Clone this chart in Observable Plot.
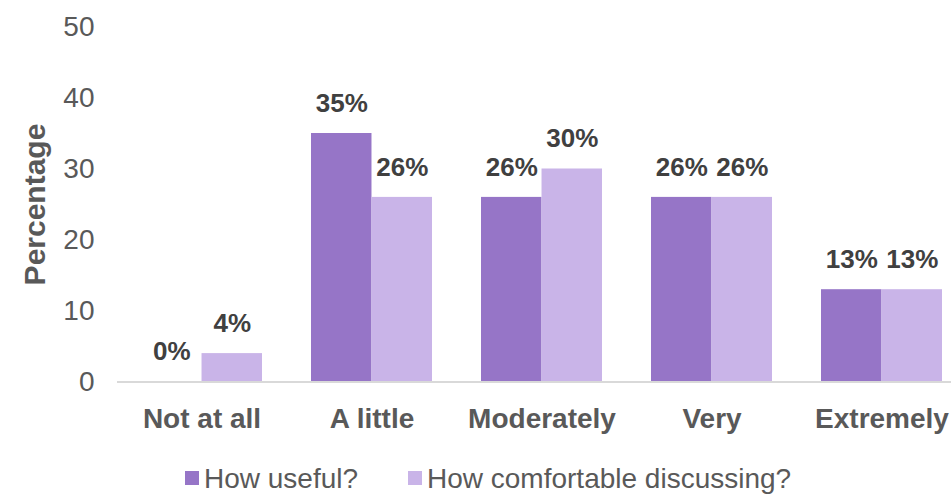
<!DOCTYPE html>
<html>
<head>
<meta charset="utf-8">
<script src="https://cdn.jsdelivr.net/npm/d3@7"></script>
<script src="https://cdn.jsdelivr.net/npm/@observablehq/plot@0.6"></script>
<style>
  body { margin: 0; background: #fff; font-family: "Liberation Sans", Arial, sans-serif; }
  #wrap { position: relative; width: 951px; height: 494px; overflow: hidden; }
  #legend { position: absolute; top: 445px; left: 0; width: 951px; height: 49px; }
  .sw { position: absolute; top: 26px; width: 14px; height: 14px; }
  .lt { position: absolute; top: 19.5px; font-size: 28px; line-height: 28px; color: #595959; white-space: nowrap; }
</style>
</head>
<body>
<div id="wrap">
  <div id="chart"></div>
  <div id="legend"></div>
</div>
<script>
const categories = ["Not at all", "A little", "Moderately", "Very", "Extremely"];
const seriesNames = ["How useful?", "How comfortable discussing?"];
const usefulValues = [0, 35, 26, 26, 13];
const comfortableValues = [4, 26, 30, 26, 13];
const seriesColors = ["#9675c7", "#c9b4e8"];
const yTicks = [0, 10, 20, 30, 40, 50];
const yLabel = "Percentage";

const rows = categories.flatMap((c, i) => [
  {category: c, series: seriesNames[0], value: usefulValues[i]},
  {category: c, series: seriesNames[1], value: comfortableValues[i]}
]);

const W = 951, H = 445, ML = 117, MR = -15, MT = 26.5, MB = 63.5;
const PI = 0.288, PO = 0.141;
const step = (W - ML - MR) / (categories.length - PI + 2 * PO);
const half = step * (1 - PI) / 2;

const first = rows.filter(d => d.series === seriesNames[0]);
const second = rows.filter(d => d.series === seriesNames[1]);

const chart = Plot.plot({
  width: W, height: H,
  marginLeft: ML, marginRight: MR, marginTop: MT, marginBottom: MB,
  style: {fontFamily: '"Liberation Sans", Arial, sans-serif', background: "white"},
  x: {domain: categories, paddingInner: PI, paddingOuter: PO, axis: null},
  y: {domain: [0, 50], axis: null},
  color: {domain: seriesNames, range: seriesColors},
  marks: [
    Plot.axisY({ticks: yTicks, tickSize: 0, tickPadding: 23, fontSize: 28, color: "#595959", label: null}),
    Plot.text([yLabel], {frameAnchor: "left", textAnchor: "middle", lineAnchor: "middle", rotate: -90, dx: -82, fontSize: 30, fontWeight: "bold", fill: "#595959"}),
    Plot.barY(first, {x: "category", y: "value", fill: "series", insetRight: half}),
    Plot.barY(second, {x: "category", y: "value", fill: "series", insetLeft: half}),
    Plot.ruleY([0], {stroke: "#d9d9d9", strokeWidth: 2}),
    Plot.text(first, {x: "category", y: "value", text: d => d.value + "%", dx: -half / 2, dy: -30, fontSize: 26, fontWeight: "bold", fill: "#404040"}),
    Plot.text(second, {x: "category", y: "value", text: d => d.value + "%", dx: half / 2, dy: -30, fontSize: 26, fontWeight: "bold", fill: "#404040"}),
    Plot.axisX({tickSize: 0, tickPadding: 26.5, fontSize: 28, fontWeight: "bold", color: "#595959", label: null})
  ]
});
document.getElementById("chart").appendChild(chart);

const legend = document.getElementById("legend");
const swX = [185, 408];
seriesNames.forEach((name, i) => {
  const sw = document.createElement("div");
  sw.className = "sw";
  sw.style.left = swX[i] + "px";
  sw.style.background = seriesColors[i];
  legend.appendChild(sw);
  const t = document.createElement("div");
  t.className = "lt";
  t.style.left = (swX[i] + 19) + "px";
  t.textContent = name;
  legend.appendChild(t);
});
</script>
</body>
</html>
